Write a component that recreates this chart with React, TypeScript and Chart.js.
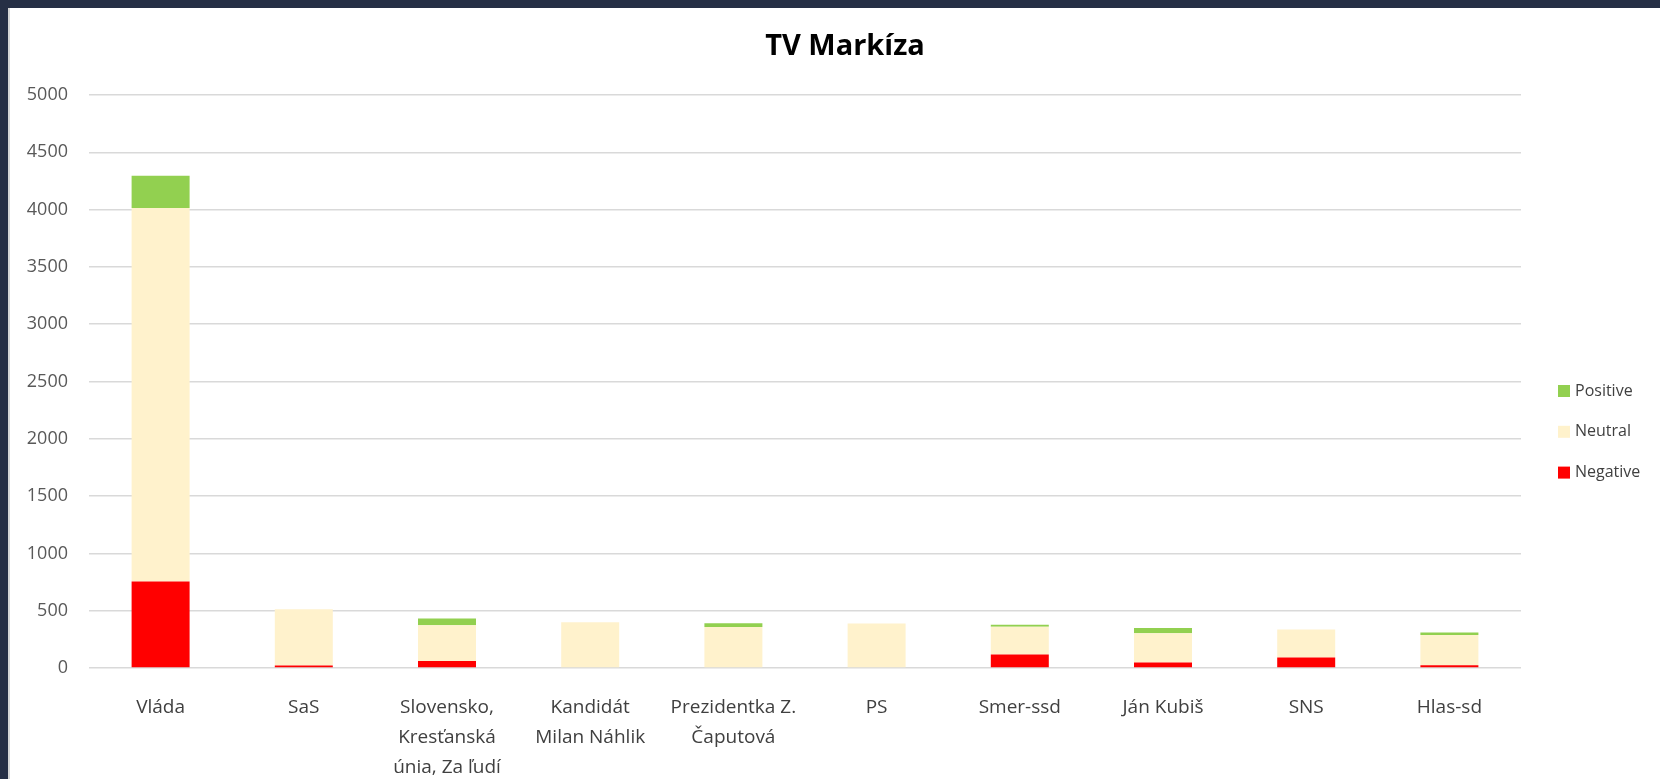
import React, { useEffect, useRef } from "react";
import { Chart, registerables } from "chart.js";

Chart.register(...registerables);

const chartTitle = "TV Markíza";
const categories: (string | string[])[] = [
  "Vláda",
  "SaS",
  ["Slovensko,", "Kresťanská", "únia, Za ľudí"],
  ["Kandidát", "Milan Náhlik"],
  ["Prezidentka Z.", "Čaputová"],
  "PS",
  "Smer-ssd",
  "Ján Kubiš",
  "SNS",
  "Hlas-sd",
];
const negativeValues = [755, 22, 60, 0, 0, 0, 118, 48, 92, 24];
const neutralValues = [3260, 490, 314, 400, 357, 388, 242, 256, 244, 265];
const positiveValues = [280, 0, 58, 0, 34, 0, 18, 44, 0, 21];
const yTicks = { min: 0, max: 5000, step: 500 };

const FONT = "'Open Sans', 'Noto Sans', sans-serif";

const titlePlugin = {
  id: "customTitle",
  afterDraw(chart: any) {
    const ctx = chart.ctx;
    ctx.save();
    ctx.font = `bold 29px ${FONT}`;
    ctx.fillStyle = "#000000";
    ctx.textAlign = "center";
    ctx.textBaseline = "alphabetic";
    ctx.fillText(chartTitle, chart.width / 2 + 10, 47);
    ctx.restore();
  },
};

const legendPlugin = {
  id: "customLegend",
  afterDraw(chart: any) {
    const ctx = chart.ctx;
    const area = chart.chartArea;
    const ds = [...chart.data.datasets].reverse();
    ctx.save();
    ctx.font = `16px ${FONT}`;
    ctx.textAlign = "left";
    ctx.textBaseline = "middle";
    const x = area.right + 37;
    const y0 = area.top + 296;
    ds.forEach((d: any, i: number) => {
      const y = y0 + i * 40.8;
      ctx.fillStyle = d.backgroundColor;
      ctx.fillRect(x, y - 6, 12, 12);
      ctx.fillStyle = "#404040";
      ctx.fillText(d.label, x + 17, y);
    });
    ctx.restore();
  },
};

export default function App() {
  const ref = useRef<HTMLCanvasElement | null>(null);

  useEffect(() => {
    if (!ref.current) return;
    const chart = new Chart(ref.current, {
      type: "bar",
      data: {
        labels: categories as any,
        datasets: [
          { label: "Negative", data: negativeValues, backgroundColor: "#ff0000" },
          { label: "Neutral", data: neutralValues, backgroundColor: "#fff2cc" },
          { label: "Positive", data: positiveValues, backgroundColor: "#92d050" },
        ],
      },
      options: {
        animation: false,
        responsive: false,
        devicePixelRatio: 1,
        layout: { padding: { top: 87, right: 139, bottom: 0, left: 0 } },
        datasets: {
          bar: { barPercentage: 0.405, categoryPercentage: 1, borderWidth: 0 },
        },
        plugins: {
          legend: { display: false },
          title: { display: false },
          tooltip: { enabled: false },
        },
        scales: {
          x: {
            stacked: true,
            grid: { display: false },
            border: { display: false },
            ticks: {
              color: "#404040",
              font: { family: FONT, size: 19, lineHeight: "30px" } as any,
              padding: 17,
              maxRotation: 0,
              autoSkip: false,
            },
            afterFit(scale: any) {
              scale.height = 111;
            },
          },
          y: {
            stacked: true,
            min: yTicks.min,
            max: yTicks.max,
            border: { display: false },
            grid: { color: "#d9d9d9", lineWidth: 1.5, drawTicks: false },
            ticks: {
              stepSize: yTicks.step,
              color: "#595959",
              font: { family: FONT, size: 18 },
              padding: 21,
              callback: (v: any) => String(v),
            },
            afterFit(scale: any) {
              scale.width = 79;
            },
          },
        },
      },
      plugins: [titlePlugin, legendPlugin],
    });
    return () => chart.destroy();
  }, []);

  return (
    <div
      style={{
        position: "fixed",
        left: 0,
        top: 0,
        width: 1660,
        height: 779,
        background: "#262f45",
        overflow: "hidden",
      }}
    >
      <div
        style={{
          position: "absolute",
          left: 8,
          top: 8,
          width: 1650,
          height: 771,
          background: "#ffffff",
          borderLeft: "2px solid #d6d6d6",
        }}
      >
        <canvas ref={ref} width={1650} height={771} style={{ display: "block" }} />
      </div>
    </div>
  );
}
